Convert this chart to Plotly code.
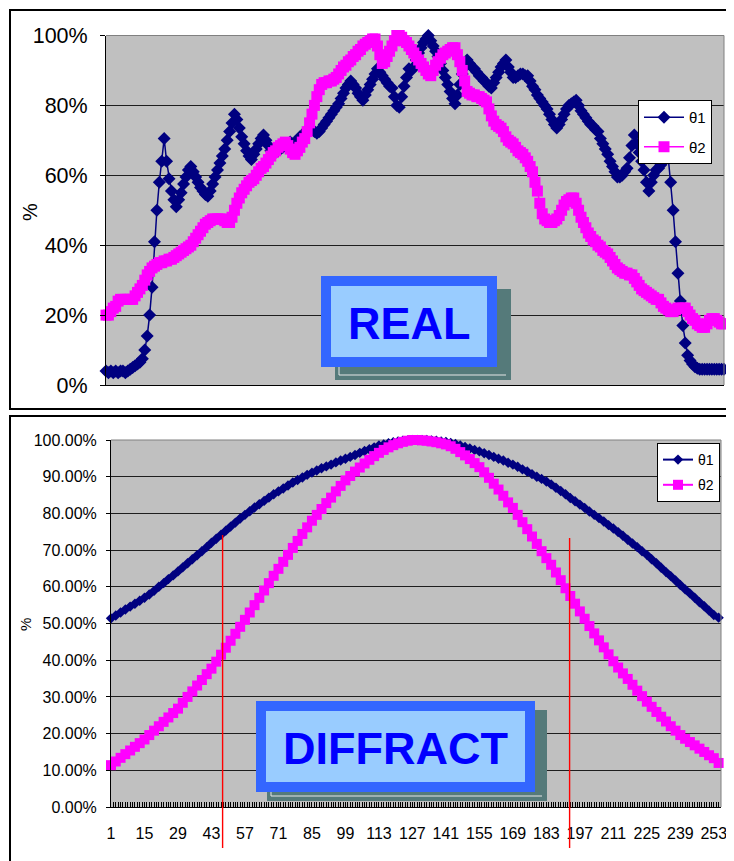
import plotly.graph_objects as go

W, H = 734, 861
PAGE_OFFSET = 8  # default page margin of the html body


def px(x):
    return (x - PAGE_OFFSET) / W


def py(y):
    return 1 - (y - PAGE_OFFSET) / H


NARROW = "Liberation Sans Narrow, Arial Narrow, Liberation Sans, Arial, sans-serif"
ARIAL = "Liberation Sans, Arial, sans-serif"

# ---------------- data (percent) ----------------
series_names = ["θ1", "θ2"]

real_theta1 = [
    4, 3.5, 4, 3.5, 4, 3.5, 4, 4, 3.5, 4,
    4.5, 5, 5.5, 6, 6.5, 7.5,
    10, 14, 20, 28, 41, 50, 58, 64, 70.5,
    64, 59, 55.5, 53, 51,
    53, 55, 57.5, 59.5, 61.5, 62.5,
    61, 59.5, 58, 56.5, 55.5, 54.5, 54,
    55.5, 57.5, 59.5, 61.5, 63.5, 65.5, 67.5, 70, 72.5, 75, 77.5,
    76, 73.5, 71, 69, 67, 65.5, 64.5,
    66, 67.5, 69, 70.5, 71.5,
    70, 68.5, 67, 66,
    66.5, 67, 67.5, 68, 68.5, 69, 69.5, 69, 69.5, 70,
    71, 71.5, 72, 73, 73.5,
    73, 72.5, 72, 72.5, 73.5, 74.5, 75.5, 76.5, 77.5, 78.5, 79.5,
    80.5, 82, 83.5, 85, 86, 87,
    86, 85, 83.5, 82.5, 81.5,
    83, 84.5, 86, 87.5, 89, 90.5,
    89.5, 88.5, 87.5, 86.5, 85.5, 85,
    82.5, 80, 79.5,
    82.5, 85.5, 88, 90.5,
    90, 91, 93,
    95, 96.5, 98, 99, 100,
    98.5, 97, 95.5, 94,
    92, 90, 88, 86, 84, 82, 80.5,
    83, 86, 89, 91, 93,
    92, 91, 90.5, 89.5,
    88.5, 88, 87, 86.5, 85.5, 85,
    86.5, 88, 89.5, 91, 92, 93,
    91, 89.5, 88,
    88, 88.5, 89, 89, 88.5, 88.5,
    87, 85.5, 84.5, 83,
    82, 81, 80, 79,
    77.5, 76, 74.5, 73.5,
    74.5, 76, 77.5, 79,
    80, 80.5, 81, 81.5,
    80, 78.5, 77.5, 76.5, 75.5,
    74.5, 74, 73, 72.5,
    70.5, 69, 67.5, 66,
    64, 62.5, 61, 59.5,
    59.5, 60, 61, 62,
    65, 68.5, 71.5,
    69, 66.5, 64, 61.5,
    58, 55.5,
    58, 60, 61.5, 62,
    63, 65, 67, 65,
    58, 50, 41, 32, 24, 17, 12, 8.5, 7, 6, 5.2, 4.8,
    4.5, 4.5, 4.5, 4.5, 4.5, 4.5, 4.5, 4.5, 4.5, 4.5, 4.5,
]

real_theta2 = [
    20, 20, 21, 22, 22.5,
    24, 24.5, 24.5, 24.5, 24.5, 24.5, 24.5,
    25.5, 26.5, 27.5, 28.5,
    30, 31.5, 32.5, 33.5, 34, 34.5,
    35, 35, 35.5, 35.5, 36, 36, 36.5, 37, 37.5,
    38, 38.5, 39, 39.5, 40,
    41, 42, 43, 44, 45, 46, 46.5, 47,
    47.5, 47.5, 47.5, 47.5, 47.5, 47, 46.5, 46.5,
    48, 50, 52, 53.5, 55, 56,
    57, 58, 58.5, 59, 60, 61, 62, 62.5,
    63.5, 64.5, 65.5, 66.5, 67, 68, 68.5, 69, 69.5,
    68.5, 67.5, 66.5, 66,
    67, 68, 69.5, 70.5,
    72.5, 75, 77.5, 80, 82.5, 84.5, 86,
    86.5, 86.5, 87, 87, 87.5, 88,
    89, 90, 91, 91.5,
    92.5, 93, 94, 94.5,
    95.5, 96, 97, 97.5,
    98, 98.5, 99, 99,
    97, 94.5, 92, 92.5,
    94, 95.5, 97, 98.5, 100,
    100, 99.5, 98.5,
    98, 97, 96, 95,
    94, 93, 92, 91, 90, 89, 88.5,
    90, 91.5, 92.5, 93.5, 94.5, 95,
    95.5, 96, 96.5, 96.5,
    94.5, 92.5, 90, 87, 84,
    83.5, 83, 83, 82.5, 82.5, 82, 81.5, 81,
    79, 77, 75.5, 74.5,
    74, 73.5, 72.5, 71, 70,
    69.5, 69, 68, 67, 66.5, 66,
    65, 64, 62.5, 61,
    58, 55.5, 52, 49, 47.5, 47, 46.5,
    46.5, 47, 47.5, 48.5,
    50, 51.5, 52.5, 53, 53.5, 53.5,
    52, 50, 48, 46.5, 45,
    43.5, 42.5, 41.5, 41,
    40, 39.5, 38.5, 38, 37.5,
    36.5, 35.5, 34.5, 33.5, 33,
    32.5, 32, 32, 31.5, 31.5,
    30.5, 29.5, 28.5, 27.5, 27, 26.5,
    26, 25.5, 25, 24.5, 24.5,
    23.5, 22.5, 22, 21.5, 21, 21,
    21.5, 22, 22, 22, 22,
    21, 20, 19, 18.5,
    17.5, 17, 16.5, 16.5,
    17.5, 18.5, 19, 19,
    18.5, 18, 17.5, 17.5,
]

diffract_theta1 = [
    51.4, 52.2, 53.0, 53.8, 54.6, 55.4, 56.2, 57.0,
    57.9, 58.9, 60.0, 61.0, 62.1, 63.1, 64.2,
    65.3, 66.4, 67.5, 68.6, 69.7, 70.8, 72.0,
    73.1, 74.2, 75.3, 76.4, 77.5, 78.6, 79.6,
    80.6, 81.6, 82.5, 83.4, 84.3, 85.2, 86.0,
    86.8, 87.6, 88.4, 89.1, 89.8, 90.5, 91.1,
    91.7, 92.3, 92.8, 93.3, 93.9, 94.4, 94.9,
    95.4, 95.9, 96.5, 97.0, 97.5, 98.0, 98.5,
    98.8, 99.1, 99.4, 99.6, 99.8, 99.9, 100.0,
    100.0, 100.0, 100.0, 99.9, 99.8, 99.6, 99.5,
    99.2, 98.9, 98.5, 98.1, 97.7, 97.3, 96.9,
    96.4, 95.9, 95.4, 94.9, 94.4, 93.8, 93.3,
    92.7, 92.0, 91.4, 90.7, 90.0, 89.4, 88.7,
    87.9, 87.0, 86.1, 85.2, 84.2, 83.3, 82.4,
    81.5, 80.5, 79.6, 78.7, 77.8, 76.8, 75.9,
    74.9, 73.9, 72.8, 71.8, 70.8, 69.7, 68.7,
    67.5, 66.4, 65.2, 64.0, 62.9, 61.7, 60.5,
    59.3, 58.2, 57.0, 55.8, 54.7, 53.5, 52.3,
    51.6,
]

diffract_theta2 = [
    11.4, 12.4, 13.4, 14.4, 15.4, 16.4, 17.4, 18.4,
    19.6, 20.8, 22.0, 23.2, 24.4, 25.6, 26.8,
    28.4, 30.0, 31.5, 33.1, 34.6, 36.2, 37.7,
    39.6, 41.5, 43.4, 45.3, 47.2, 49.1, 51.0,
    53.0, 55.0, 57.0, 59.0, 61.0, 63.0, 64.9,
    66.8, 68.7, 70.6, 72.5, 74.4, 76.2, 78.0,
    79.6, 81.2, 82.8, 84.3, 86.0, 87.5, 89.0,
    90.2, 91.4, 92.5, 93.6, 94.6, 95.6, 96.5,
    97.3, 98.0, 98.6, 99.1, 99.5, 99.8, 100.0,
    100.0, 99.9, 99.8, 99.6, 99.4, 99.1, 98.8,
    98.3, 97.6, 96.7, 95.8, 94.8, 93.7, 92.6,
    91.2, 89.7, 88.1, 86.5, 84.8, 83.0, 81.5,
    79.6, 77.6, 75.7, 73.7, 71.7, 69.7, 67.8,
    66.0, 63.9, 61.8, 59.6, 57.5, 55.4, 53.3,
    51.3, 49.3, 47.3, 45.4, 43.5, 41.6, 39.7,
    38.0, 36.4, 34.9, 33.3, 31.7, 30.2, 28.7,
    27.3, 25.9, 24.6, 23.3, 22.0, 20.8, 19.6,
    18.6, 17.7, 16.8, 15.9, 15.0, 14.1, 13.3,
    12.0,
]

real_index = list(range(1, len(real_theta1) + 1))
diffract_index = list(range(1, 2 * len(diffract_theta1), 2))
n_categories = 256

NAVY = "#000080"
MAGENTA = "#FF00FF"

fig = go.Figure()

# ---- REAL panel ----
fig.add_trace(go.Scatter(
    x=real_index, y=real_theta1, name=series_names[0], mode="lines+markers",
    line=dict(color=NAVY, width=1.5),
    marker=dict(symbol="diamond", size=10, color=NAVY),
    xaxis="x", yaxis="y", legend="legend", legendgroup="r1", cliponaxis=False,
))
fig.add_trace(go.Scatter(
    x=real_index[:len(real_theta2)], y=real_theta2, name=series_names[1], mode="lines+markers",
    line=dict(color=MAGENTA, width=1.5),
    marker=dict(symbol="square", size=11, color=MAGENTA),
    xaxis="x", yaxis="y", legend="legend", legendgroup="r2", cliponaxis=False,
))

# ---- DIFFRACT panel ----
fig.add_trace(go.Scatter(
    x=diffract_index, y=diffract_theta1, name=series_names[0], mode="lines+markers",
    line=dict(color=NAVY, width=2),
    marker=dict(symbol="diamond", size=8, color=NAVY),
    xaxis="x2", yaxis="y2", legend="legend2", legendgroup="d1", cliponaxis=False,
))
fig.add_trace(go.Scatter(
    x=diffract_index, y=diffract_theta2, name=series_names[1], mode="lines+markers",
    line=dict(color=MAGENTA, width=2),
    marker=dict(symbol="square", size=10, color=MAGENTA),
    xaxis="x2", yaxis="y2", legend="legend2", legendgroup="d2", cliponaxis=False,
))

top_x = [px(106), px(724)]
top_y = [py(385), py(35.5)]
bot_x = [px(111), px(721)]
bot_y = [py(807), py(440)]

GRID = "#1e1e1e"

fig.update_layout(
    width=W, height=H,
    margin=dict(l=0, r=0, t=0, b=0, pad=0, autoexpand=False),
    paper_bgcolor="white",
    plot_bgcolor="#C0C0C0",
    xaxis=dict(domain=top_x, range=[1, n_categories], anchor="y", automargin=False,
               showgrid=False, zeroline=False, showticklabels=False, ticks="",
               showline=True, linecolor="black", linewidth=1),
    yaxis=dict(domain=top_y, range=[0, 100], anchor="x", dtick=20, tick0=0, automargin=False,
               ticksuffix="%", showgrid=True, gridcolor=GRID, gridwidth=1,
               zeroline=False, ticks="outside", ticklen=5, tickcolor="black",
               showline=True, linecolor="black", linewidth=1,
               ticklabelstandoff=8,
               tickfont=dict(family=NARROW, size=21.5, color="black")),
    xaxis2=dict(domain=bot_x, range=[1, n_categories], anchor="y2", automargin=False,
                tickmode="linear", tick0=1, dtick=14,
                showgrid=False, zeroline=False,
                ticks="inside", ticklen=5, tickcolor="black",
                minor=dict(dtick=1, tick0=1, ticks="inside", ticklen=5,
                           tickcolor="black", showgrid=False),
                showline=True, linecolor="black", linewidth=1,
                ticklabelstandoff=12,
                tickfont=dict(family=ARIAL, size=16, color="black")),
    yaxis2=dict(domain=bot_y, range=[0, 100], anchor="x2", dtick=10, tick0=0, automargin=False,
                tickformat=".2f", ticksuffix="%", showgrid=True, gridcolor=GRID,
                gridwidth=1, zeroline=False, ticks="outside", ticklen=4,
                tickcolor="black", showline=True, linecolor="black", linewidth=1,
                ticklabelstandoff=6,
                tickfont=dict(family=ARIAL, size=16, color="black")),
    legend=dict(x=px(638), y=py(100), xanchor="left", yanchor="top",
                bgcolor="white", bordercolor="black", borderwidth=1,
                font=dict(family=NARROW, size=15, color="black"),
                traceorder="grouped", tracegroupgap=7, itemwidth=40),
    legend2=dict(x=px(657), y=py(443), xanchor="left", yanchor="top",
                 bgcolor="white", bordercolor="black", borderwidth=1,
                 font=dict(family=ARIAL, size=14, color="black"),
                 traceorder="grouped", tracegroupgap=4, itemwidth=30),
    showlegend=True,
)

shapes = []
# panel frames
shapes.append(dict(type="rect", xref="paper", yref="paper",
                   x0=px(10), x1=px(760), y0=py(409), y1=py(10),
                   line=dict(color="black", width=2), fillcolor="rgba(0,0,0,0)", layer="above"))
shapes.append(dict(type="rect", xref="paper", yref="paper",
                   x0=px(10), x1=px(760), y0=py(885), y1=py(416),
                   line=dict(color="black", width=2), fillcolor="rgba(0,0,0,0)", layer="above"))
# plot-area top/right grey border
for (xa, ya) in [(top_x, top_y), (bot_x, bot_y)]:
    shapes.append(dict(type="line", xref="paper", yref="paper",
                       x0=xa[0], x1=xa[1], y0=ya[1], y1=ya[1],
                       line=dict(color="#808080", width=1), layer="below"))
    shapes.append(dict(type="line", xref="paper", yref="paper",
                       x0=xa[1], x1=xa[1], y0=ya[0], y1=ya[1],
                       line=dict(color="#808080", width=1), layer="above"))


def label_box(x0, y0, x1, y1, sx0, sy0, sx1, sy1):
    out = []
    out.append(dict(type="rect", xref="paper", yref="paper",
                    x0=px(sx0), x1=px(sx1), y0=py(sy1), y1=py(sy0),
                    fillcolor="#557a7a", line=dict(width=0), layer="above"))
    out.append(dict(type="path", xref="paper", yref="paper",
                    path=f"M {px(sx0 + 4)},{py(sy0 + 8)} L {px(sx0 + 4)},{py(sy1 - 5)} L {px(sx1 - 5)},{py(sy1 - 5)}",
                    line=dict(color="#e6e6e6", width=1), layer="above"))
    out.append(dict(type="rect", xref="paper", yref="paper",
                    x0=px(x0), x1=px(x1), y0=py(y1), y1=py(y0),
                    fillcolor="#3366FF", line=dict(width=0), layer="above"))
    out.append(dict(type="rect", xref="paper", yref="paper",
                    x0=px(x0 + 10), x1=px(x1 - 10), y0=py(y1 - 10), y1=py(y0 + 10),
                    fillcolor="#99CCFF", line=dict(width=0), layer="above"))
    return out


shapes += label_box(321, 276, 497, 367, 335, 289, 511, 380)
shapes += label_box(256, 701, 535, 792, 267, 710, 547, 801)

# red marker lines in DIFFRACT panel
shapes.append(dict(type="line", xref="paper", yref="paper",
                   x0=px(222.6), x1=px(222.6), y0=py(848), y1=py(535),
                   line=dict(color="#FF0000", width=1.4), layer="above"))
shapes.append(dict(type="line", xref="paper", yref="paper",
                   x0=px(569.6), x1=px(569.6), y0=py(848), y1=py(538),
                   line=dict(color="#FF0000", width=1.4), layer="above"))

fig.update_layout(shapes=shapes)

annotations = [
    dict(text="<b>REAL</b>", x=px(409), y=py(323), xref="paper", yref="paper",
         showarrow=False, xanchor="center", yanchor="middle",
         font=dict(family=ARIAL, size=45, color="#0000FF")),
    dict(text="<b>DIFFRACT</b>", x=px(395.5), y=py(748), xref="paper", yref="paper",
         showarrow=False, xanchor="center", yanchor="middle",
         font=dict(family=ARIAL, size=45, color="#0000FF")),
    dict(text="%", x=px(30), y=py(212), xref="paper", yref="paper",
         showarrow=False, textangle=-90, xanchor="center", yanchor="middle",
         font=dict(family=NARROW, size=20, color="black")),
    dict(text="%", x=px(25), y=py(625), xref="paper", yref="paper",
         showarrow=False, textangle=-90, xanchor="center", yanchor="middle",
         font=dict(family=ARIAL, size=15, color="black")),
]
fig.update_layout(annotations=annotations)

fig.write_html("out.html")
